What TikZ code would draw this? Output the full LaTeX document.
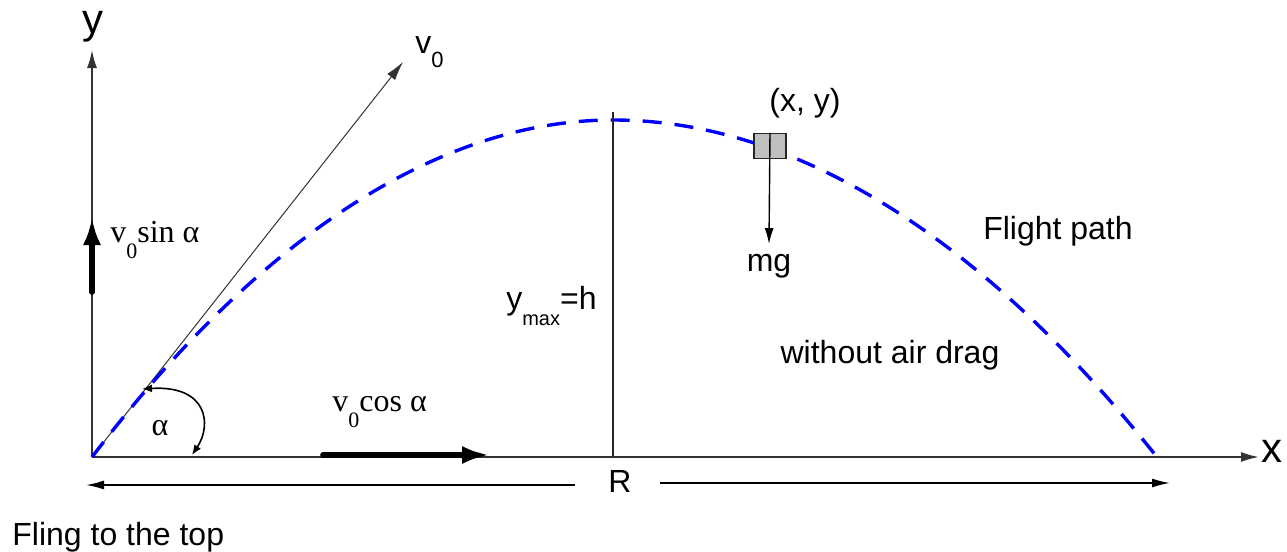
\documentclass[tikz,border=0pt]{standalone}
\usepackage{fontspec}
\setmainfont{Liberation Sans}
\newfontfamily\tnr{Liberation Serif}
\usetikzlibrary{arrows.meta}
\newcommand{\lowsub}[2][7pt]{\raisebox{-#1}{\fontsize{11}{12}\selectfont #2}}
\begin{document}
\begin{tikzpicture}[x=0.5pt,y=-0.5pt,
  axis/.style={line width=0.9pt,draw=black!80,-{Latex[length=9pt,width=5pt]}},
  thin/.style={line width=0.5pt,draw=black!80},
  thickarrow/.style={line width=2.8pt,line cap=round,-{Latex[length=14pt,width=9pt]}},
  flight/.style={line width=1.7pt,draw=blue,dash pattern=on 9.5pt off 6.5pt},
  lab/.style={font=\fontsize{16}{19}\selectfont,inner sep=1pt},
  slab/.style={font=\tnr\fontsize{16}{19}\selectfont,inner sep=1pt},
  dimarrow/.style={line width=0.8pt,-{Latex[length=9pt,width=4.5pt]}}]
\useasboundingbox (0,0) rectangle (1287,552);
% coordinates
\coordinate (O) at (92,457);
\coordinate (ytip) at (92,50);
\coordinate (xtip) at (1259,457);
\coordinate (v0tip) at (403,62);
\coordinate (top) at (613,120);
\coordinate (land) at (1157,457);
\coordinate (hbase) at (613,457);
\coordinate (htop) at (613,112);
\coordinate (sinA) at (92,292);
\coordinate (sinB) at (92,217);
\coordinate (cosA) at (323,455);
\coordinate (cosB) at (490,455);
\coordinate (arcA) at (192,455);
\coordinate (arcB) at (142,389);
\coordinate (Rl) at (575,485);
\coordinate (Ll) at (86,485);
\coordinate (Rr) at (660,483);
\coordinate (Lr) at (1170,483);
% axes
\draw[axis] (O) -- (ytip);
\draw[axis] (O) -- (xtip);
\node[lab,font=\fontsize{21}{24}\selectfont] (ylab) at (93,27) {y};
\node[lab,font=\fontsize{21}{24}\selectfont] (xlab) at (1272,451) {x};
% v0 line
\draw[thin,-{Latex[length=9.5pt,width=5pt]}] (O) -- (v0tip);
\node[lab,anchor=west] (v0lab) at (413,52) {v\lowsub{0}};
% flight path
\draw[flight] (O) parabola bend (top) (land);
% height line
\draw[line width=0.7pt,draw=black!85] (hbase) -- (htop);
\node[lab,anchor=east] (ymax) at (599,306) {y\lowsub[8pt]{\fontsize{10}{12}\selectfont max}=h};
% components
\draw[thickarrow] (sinA) -- (sinB);
\node[slab,anchor=west] (vsin) at (108,240) {v\lowsub[8pt]{0}sin α};
\draw[thickarrow] (cosA) -- (cosB);
\node[slab,anchor=west] (vcos) at (330,412) {v\lowsub[8pt]{0}cos α};
% angle
\draw[line width=0.8pt,{Latex[length=5pt,width=4pt]}-{Latex[length=5pt,width=4pt]}] (arcA) .. controls (212,425) and (208,385) .. (arcB);
\node[slab] (alpha) at (160,428) {α};
% mass
\node[draw=black!85,fill=black!25,line width=0.7pt,minimum width=16pt,minimum height=12.5pt,inner sep=0pt] (mass) at (770,146) {};
\node[lab] (xy) at (805,103) {(x, y)};
\node[lab,inner sep=0pt,outer sep=5pt] (mg) at (769,266) {mg};
\draw[line width=0.7pt,-{Latex[length=8pt,width=4.5pt]}] (mass.north) -- (mg.north);
% labels
\node[lab] (fp) at (1058,231) {Flight path};
\node[lab] (wad) at (890,355) {without air drag};
\node[lab] (R) at (620,481) {R};
\draw[dimarrow] (Rl) -- (Ll);
\draw[dimarrow] (Rr) -- (Lr);
\node[lab,anchor=west] (fling) at (10,537) {Fling to the top};
\end{tikzpicture}
\end{document}
